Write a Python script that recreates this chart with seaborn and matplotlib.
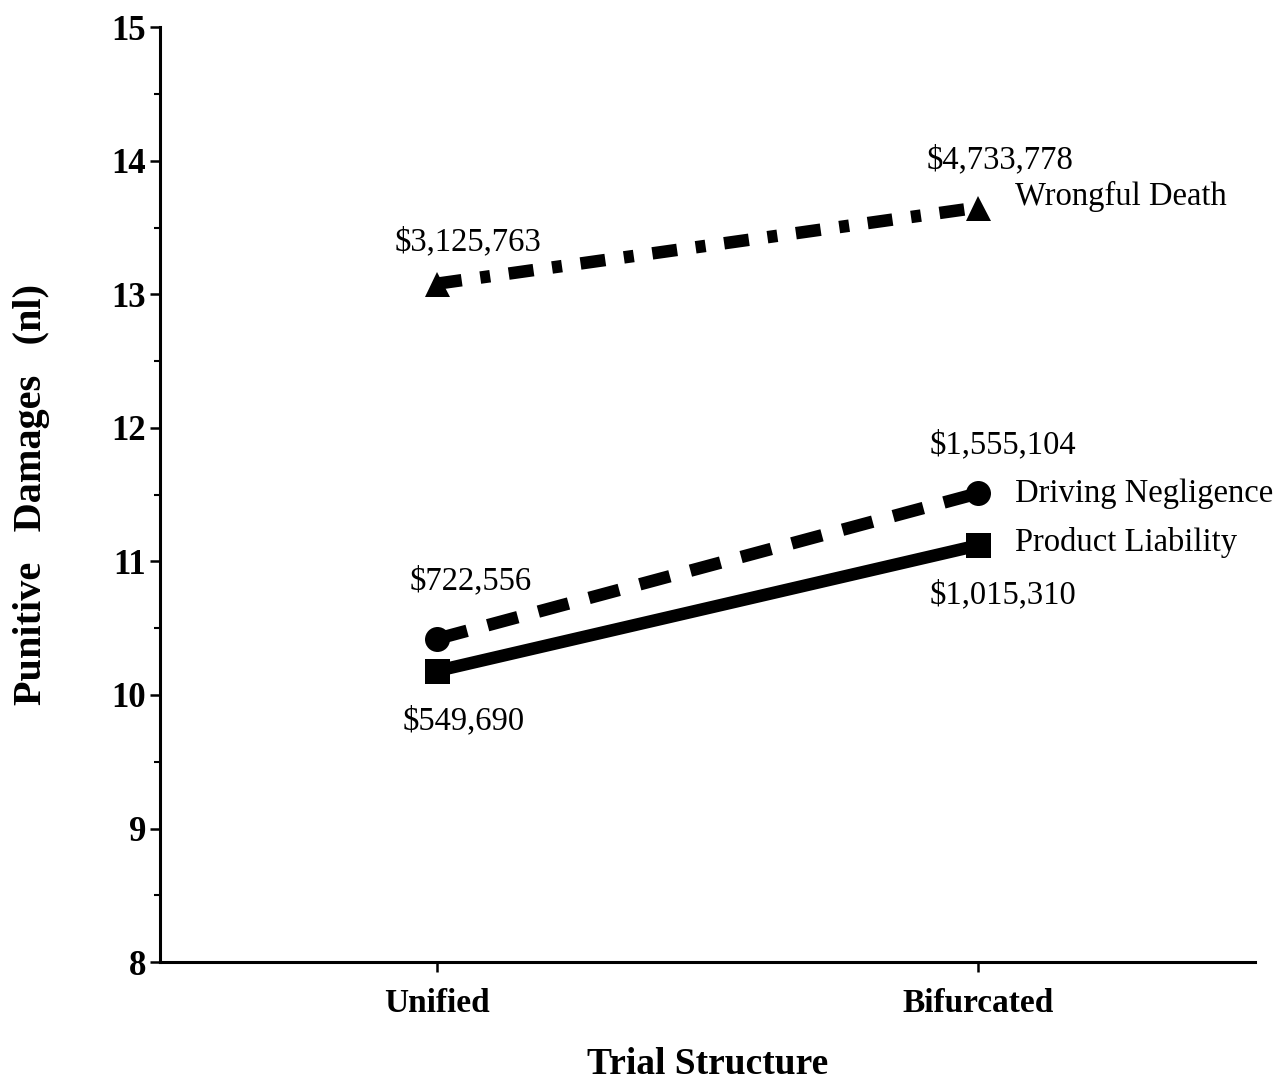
import matplotlib
matplotlib.use("Agg")
import matplotlib.pyplot as plt
import seaborn as sns
import pandas as pd
from matplotlib.ticker import MultipleLocator

structures = ["Unified", "Bifurcated"]
series_names = ["Wrongful Death", "Driving Negligence", "Product Liability"]
wrongful_death = [13.08, 13.65]
driving_negligence = [10.42, 11.51]
product_liability = [10.18, 11.12]
wd_labels = ["$3,125,763", "$4,733,778"]
dn_labels = ["$722,556", "$1,555,104"]
pl_labels = ["$549,690", "$1,015,310"]
y_ticks = [8, 9, 10, 11, 12, 13, 14, 15]

sns.set_theme(style="ticks")
plt.rcParams['font.family'] = ['Liberation Serif', 'DejaVu Serif']
plt.rcParams['text.color'] = 'black'
plt.rcParams['axes.labelcolor'] = 'black'
plt.rcParams['xtick.color'] = 'black'
plt.rcParams['ytick.color'] = 'black'

rows = []
for name, vals in zip(series_names, [wrongful_death, driving_negligence, product_liability]):
    for s, v in zip(structures, vals):
        rows.append({"Trial Structure": s, "value": v, "series": name})
df = pd.DataFrame(rows)

fig = plt.figure(figsize=(12.82, 10.92), dpi=100)
ax = fig.add_axes([0.1248, 0.119, 0.854, 0.856])

sns.lineplot(data=df, x="Trial Structure", y="value", hue="series", style="series",
             palette={n: "black" for n in series_names},
             dashes={"Wrongful Death": (2.0, 1.5, 0.8, 1.5),
                     "Driving Negligence": (2.5, 1.7),
                     "Product Liability": ""},
             markers={"Wrongful Death": "^", "Driving Negligence": "o", "Product Liability": "s"},
             markersize=18, linewidth=9, markeredgewidth=0, legend=False, ax=ax,
             sort=False)

ax.set_xlim(-0.512, 1.512)
ax.set_ylim(8, 15)
ax.set_yticks(y_ticks)
ax.yaxis.set_minor_locator(MultipleLocator(0.5))
for sp in ["top", "right"]:
    ax.spines[sp].set_visible(False)
for sp in ["left", "bottom"]:
    ax.spines[sp].set_linewidth(2.2)
    ax.spines[sp].set_color("black")
ax.tick_params(axis="both", which="major", length=7, width=1.8, color="black",
               labelsize=25, pad=3)
ax.tick_params(axis="y", which="minor", length=4, width=1.5, color="black")
ax.tick_params(axis="x", pad=12, labelsize=24)
for lab in ax.get_xticklabels() + ax.get_yticklabels():
    lab.set_fontweight("bold")

ax.set_xlabel("Trial Structure", fontsize=27, fontweight="bold", labelpad=20)
ax.set_ylabel("Punitive   Damages   (nl)", fontsize=29, fontweight="bold", labelpad=44)

fs = 23.5
def note(txt, x, y, dx, dy, ha="center"):
    ax.annotate(txt, (x, y), xytext=(dx, dy), textcoords="offset points",
                ha=ha, va="center", fontsize=fs)

note(wd_labels[0], 0, wrongful_death[0], 22, 30)
note(wd_labels[1], 1, wrongful_death[1], 16, 34)
note(series_names[0], 1, wrongful_death[1], 27, 8, ha="left")
note(dn_labels[0], 0, driving_negligence[0], 24, 42)
note(dn_labels[1], 1, driving_negligence[1], 18, 35)
note(series_names[1], 1, driving_negligence[1], 27, 0, ha="left")
note(pl_labels[0], 0, product_liability[0], 19, -36)
note(pl_labels[1], 1, product_liability[1], 18, -36)
note(series_names[2], 1, product_liability[1], 27, 2, ha="left")

fig.savefig("out.png", dpi=100)
